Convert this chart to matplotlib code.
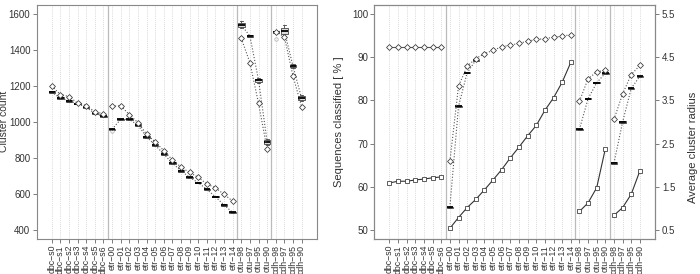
import numpy as np
import matplotlib
matplotlib.use("Agg")
from matplotlib import pyplot as plt

plt.rcParams['font.family'] = ['Liberation Sans', 'DejaVu Sans']
plt.rcParams['font.size'] = 7

# categories, split into four groups
labels = ['dbc−s0', 'dbc−s1', 'dbc−s2', 'dbc−s3', 'dbc−s4', 'dbc−s5', 'dbc−s6',
          'etr−00', 'etr−01', 'etr−02', 'etr−03', 'etr−04', 'etr−05', 'etr−06', 'etr−07',
          'etr−08', 'etr−09', 'etr−10', 'etr−11', 'etr−12', 'etr−13', 'etr−14',
          'otu−98', 'otu−97', 'otu−95', 'otu−90',
          'cdh−98', 'cdh−97', 'cdh−95', 'cdh−90']
group_sizes = [7, 15, 4, 4]

# left panel: cluster count
count_diamond = [1200, 1153, 1142, 1105, 1092, 1057, 1046,
                 1088, 1090, 1042, 997, 933, 890, 842, 790, 750, 720, 693, 656, 635, 598, 561,
                 1465, 1330, 1104, 848,
                 1500, 1474, 1256, 1085]
count_med = [1167, 1133, 1118, 1102, 1082, 1048, 1032,
             960, 1015, 1015, 983, 918, 872, 822, 772, 729, 693, 663, 626, 585, 539, 498,
             1539, 1478, 1233, 891,
             1502, 1506, 1311, 1132]
count_q1 = [1163, 1129, 1114, 1098, 1078, 1044, 1028,
            956, 1011, 1011, 979, 914, 868, 818, 768, 725, 689, 659, 622, 581, 535, 494,
            1530, 1474, 1224, 878,
            1497, 1491, 1304, 1122]
count_q3 = [1171, 1137, 1122, 1106, 1086, 1052, 1036,
            964, 1019, 1019, 987, 922, 876, 826, 776, 733, 697, 667, 630, 589, 543, 502,
            1552, 1482, 1241, 900,
            1507, 1520, 1318, 1143]
count_lo = [1163, 1129, 1114, 1098, 1078, 1044, 1028,
            956, 1011, 1011, 979, 914, 868, 818, 768, 725, 689, 659, 622, 581, 535, 494,
            1522, 1474, 1218, 870,
            1497, 1480, 1300, 1115]
count_hi = [1171, 1137, 1122, 1106, 1086, 1052, 1036,
            964, 1019, 1019, 987, 922, 876, 826, 776, 733, 697, 667, 630, 589, 543, 502,
            1563, 1482, 1246, 905,
            1507, 1539, 1322, 1148]
count_fliers = {7: [950], 26: [1459]}

# right panel: sequences classified [%] and average cluster radius
seq_diamond = [92.3, 92.3, 92.3, 92.3, 92.3, 92.3, 92.3,
               65.9, 83.3, 87.9, 89.7, 90.8, 91.6, 92.4, 92.8, 93.2, 93.7, 94.1, 94.3, 94.6, 94.9, 95.2,
               79.8, 85.0, 86.6, 87.0,
               75.6, 81.5, 86.0, 88.1]
nan = np.nan
seq_med = [nan, nan, nan, nan, nan, nan, nan,
           55.3, 78.6, 86.4, 89.3, nan, nan, nan, nan, nan, nan, nan, nan, nan, nan, nan,
           73.3, 80.4, 84.1, 86.3,
           65.5, 75.0, 82.8, 85.6]
radius = [1.59, 1.63, 1.63, 1.66, 1.68, 1.71, 1.73,
          0.54, 0.79, 1.02, 1.21, 1.43, 1.66, 1.90, 2.17, 2.42, 2.68, 2.92, 3.27, 3.56, 3.92, 4.38,
          0.93, 1.13, 1.48, 2.38,
          0.84, 1.02, 1.33, 1.87]

x = np.arange(len(labels))
bounds = np.cumsum([0] + group_sizes)
groups = [slice(bounds[i], bounds[i + 1]) for i in range(len(group_sizes))]

edge = '#333333'
dot = '#555555'


def style_axes(ax):
    ax.set_xlim(-1.75, len(labels) + 0.75)
    ax.set_xticks(x)
    ax.set_xticklabels(labels, rotation=90, fontsize=6.3)
    ax.xaxis.grid(True, ls=(0, (1, 1.5)), color='#cccccc', lw=0.6)
    ax.set_axisbelow(True)
    for b in bounds[1:-1]:
        ax.axvline(b - 0.5, color='#bbbbbb', lw=0.9, zorder=1)
    for s in ax.spines.values():
        s.set_color('#888888')
        s.set_linewidth(0.8)
    ax.tick_params(colors='#333333', length=3, width=0.6, pad=1.5)
    ax.tick_params(axis='both', color='#666666')


def boxes(ax, med, q1, q3, lo, hi, fliers, width=0.75):
    stats = []
    pos = []
    for i in range(len(med)):
        if np.isnan(med[i]):
            continue
        stats.append(dict(med=med[i], q1=q1[i], q3=q3[i], whislo=lo[i], whishi=hi[i],
                          fliers=fliers.get(i, [])))
        pos.append(x[i])
    ax.bxp(stats, positions=pos, widths=width, patch_artist=True, manage_ticks=False,
           boxprops=dict(facecolor='#dddddd', edgecolor='#444444', lw=0.6),
           medianprops=dict(color='black', lw=1.3),
           whiskerprops=dict(color='#444444', lw=0.6, ls='--'),
           capprops=dict(color='#444444', lw=0.6),
           flierprops=dict(marker='o', ms=2.5, mfc='none', mec='#aaaaaa', mew=0.5),
           zorder=3)


fig = plt.figure(figsize=(7, 2.74), dpi=100)
ax1 = fig.add_axes([0.0524, 0.1288, 0.4, 0.854])
ax3 = fig.add_axes([0.5347, 0.1288, 0.401, 0.854])

# left panel
style_axes(ax1)
for g in groups:
    ax1.plot(x[g], np.array(count_med)[g], ls=':', color=dot, lw=0.8, zorder=2)
boxes(ax1, count_med, count_q1, count_q3, count_lo, count_hi, count_fliers)
for g in groups:
    ax1.plot(x[g], np.array(count_diamond)[g], ls=':', color=dot, lw=0.8,
             marker='D', ms=3.0, mfc='white', mec=edge, mew=0.55, zorder=4)
ax1.set_ylim(352, 1652)
ax1.set_yticks([400, 600, 800, 1000, 1200, 1400, 1600])
ax1.set_ylabel('Cluster count', fontsize=7.5, color='#333333')
ax1.yaxis.set_label_coords(-0.099, 0.5)

# right panel
style_axes(ax3)
seq_q1 = np.array(seq_med) - 0.15
seq_q3 = np.array(seq_med) + 0.15
for g in groups:
    ax3.plot(x[g], np.array(seq_med)[g], ls=':', color=dot, lw=0.8, zorder=2)
boxes(ax3, seq_med, seq_q1, seq_q3, seq_q1, seq_q3, {})
diamond_ls = ['-', ':', ':', ':']
for g, ls in zip(groups, diamond_ls):
    ax3.plot(x[g], np.array(seq_diamond)[g], ls=ls, color=dot, lw=0.8,
             marker='D', ms=3.0, mfc='white', mec=edge, mew=0.55, zorder=4)
ax3.set_ylim(48, 102.15)
ax3.set_yticks([50, 60, 70, 80, 90, 100])
ax3.set_ylabel('Sequences classified [ % ]', fontsize=8, color='#333333', labelpad=6)

ax4 = ax3.twinx()
for g in groups:
    ax4.plot(x[g], np.array(radius)[g], ls='-', color=edge, lw=0.8,
             marker='s', ms=3.4, mfc='white', mec=edge, mew=0.55, zorder=4)
ax4.set_ylim(0.3, 5.715)
ax4.set_yticks([0.5, 1.5, 2.5, 3.5, 4.5, 5.5])
for s in ax4.spines.values():
    s.set_color('#888888')
    s.set_linewidth(0.8)
ax4.tick_params(colors='#333333', color='#666666', length=3, width=0.6, pad=2)
ax4.set_ylabel('Average cluster radius', fontsize=8, color='#333333')
ax4.yaxis.set_label_coords(1.118, 0.39)

fig.savefig('out.png', dpi=100)
